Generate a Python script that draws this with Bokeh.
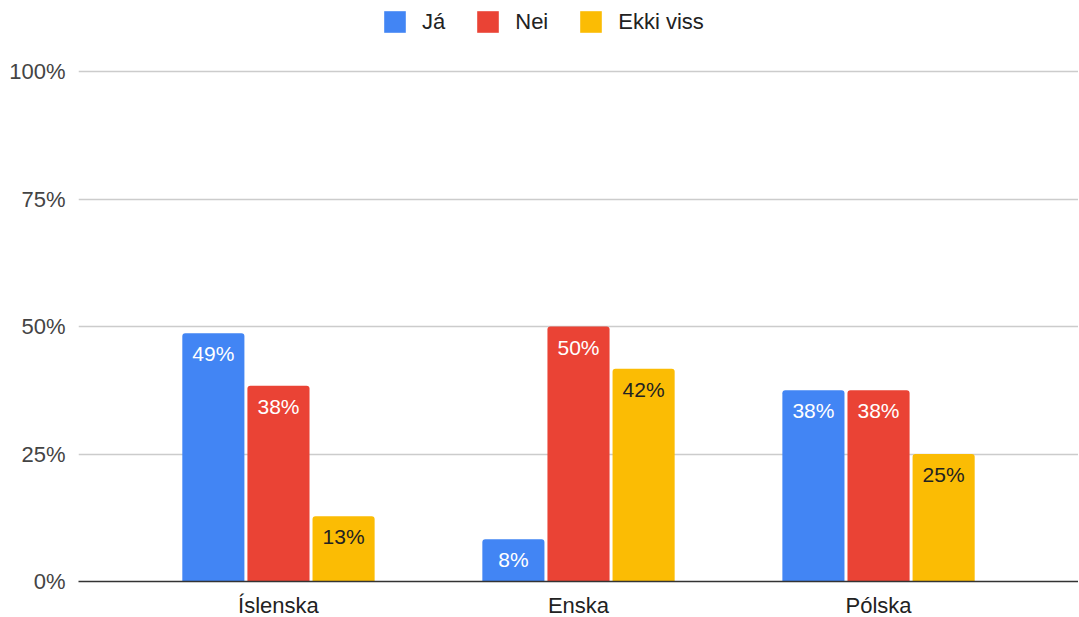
from bokeh.plotting import figure
from bokeh.models import (ColumnDataSource, FactorRange, Range1d, FixedTicker,
                          NumeralTickFormatter, Legend, LegendItem)
from bokeh.transform import dodge
from bokeh.core.properties import value
from bokeh.embed import file_html
from bokeh.resources import INLINE

# ---- data ----
categories = ["Íslenska", "Enska", "Pólska"]
series_names = ["Já", "Nei", "Ekki viss"]
ja = [0.487, 0.083, 0.375]
nei = [0.384, 0.500, 0.375]
ekki_viss = [0.128, 0.417, 0.250]
y_ticks = [0, 0.25, 0.5, 0.75, 1.0]

colors = ["#4285F4", "#EA4335", "#FBBC04"]
label_colors = ["#ffffff", "#ffffff", "#222222"]
offsets = [-0.217, 0.0, 0.217]
FONT = "Liberation Sans"

FRAME_H = 581
p = figure(
    x_range=FactorRange(*categories, range_padding=0.111),
    y_range=Range1d(0, FRAME_H / 510),
    frame_width=1000, frame_height=FRAME_H,
    min_border_left=78, min_border_right=0, min_border_top=0, min_border_bottom=28,
    output_backend="svg", toolbar_location=None,
)
p.outline_line_color = None
p.background_fill_color = "white"
p.border_fill_color = "white"

items = []
for name, vals, col, lcol, off in zip(series_names, [ja, nei, ekki_viss], colors, label_colors, offsets):
    src = ColumnDataSource(dict(cat=categories, val=vals,
                                lbl=[f"{v:.0%}" for v in vals]))
    r = p.vbar(x=dodge("cat", off, range=p.x_range), top="val", width=0.207,
               source=src, fill_color=col, line_color=None,
               border_radius=(3, 3, 0, 0))
    p.text(x=dodge("cat", off, range=p.x_range), y="val", text="lbl", source=src,
           text_color=lcol, text_font=value(FONT), text_font_size="21px",
           text_align="center", text_baseline="top", y_offset=9)
    items.append(LegendItem(label=name, renderers=[r]))

legend = Legend(items=items, orientation="horizontal", location=(303, 546),
                glyph_width=27, glyph_height=27, label_standoff=14, spacing=29,
                label_text_font=FONT, label_text_font_size="22px",
                label_text_color="#222222", padding=0, margin=0,
                border_line_color=None, background_fill_alpha=0)
p.add_layout(legend, "center")

# axes
p.yaxis.ticker = FixedTicker(ticks=y_ticks)
p.yaxis.formatter = NumeralTickFormatter(format="0%")
p.yaxis.axis_line_color = None
p.yaxis.major_tick_line_color = None
p.yaxis.minor_tick_line_color = None
p.yaxis.major_label_text_font = FONT
p.yaxis.major_label_text_font_size = "22px"
p.yaxis.major_label_text_color = "#444444"
p.yaxis.major_label_standoff = 7

p.xaxis.axis_line_color = "#333333"
p.xaxis.axis_line_width = 1.5
p.xaxis.major_tick_line_color = None
p.xaxis.minor_tick_line_color = None
p.xaxis.major_label_text_font = FONT
p.xaxis.major_label_text_font_size = "22px"
p.xaxis.major_label_text_color = "#222222"
p.xaxis.major_label_standoff = 5

p.xgrid.grid_line_color = None
p.ygrid.grid_line_color = "#cccccc"
p.ygrid.grid_line_width = 1.5

open("out.html", "w").write(file_html(p, INLINE))
